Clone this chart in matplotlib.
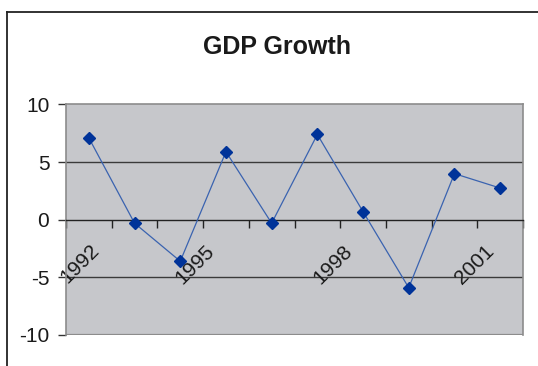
import matplotlib
matplotlib.use("Agg")
import matplotlib.pyplot as plt
from matplotlib.lines import Line2D
import matplotlib.transforms as mtransforms

plt.rcParams['font.family'] = ['Liberation Sans', 'DejaVu Sans']

# datos
years = [1992, 1993, 1994, 1995, 1996, 1997, 1998, 1999, 2000, 2001]
growth = [7.1, -0.3, -3.6, 5.9, -0.3, 7.4, 0.7, -5.9, 4.0, 2.75]
shown_years = [1992, 1995, 1998, 2001]
label_nudge = [7, -15, -14, -9]   # desplazamiento horizontal (px) de cada etiqueta

fig = plt.figure(figsize=(5.38, 3.66), dpi=100)
ax = fig.add_axes([0.1227, 0.0847, 0.8494, 0.6298])
ax.set_facecolor('#c6c7cb')

pos = list(range(len(years)))
ax.plot(pos, growth, color='#3a63b0', linewidth=0.9, zorder=3)
ax.plot(pos, growth, linestyle='none', marker='D', markersize=6.5,
        color='#003399', markeredgecolor='#003399', zorder=4)

ax.set_xlim(-0.5, len(years) - 0.5)
ax.set_ylim(-10, 10)
ax.set_yticks([-10, -5, 0, 5, 10])
ax.set_yticklabels(['-10', '-5', '0', '5', '10'], fontsize=15, color='#1a1a1a')
ax.tick_params(axis='y', direction='out', length=6, width=1, color='#333333', pad=6)

# eje x cruzando en cero, ticks en los limites de categoria
ax.spines['bottom'].set_position(('data', 0))
ax.spines['bottom'].set_color('#222222')
ax.spines['bottom'].set_linewidth(1)
ax.set_xticks([p + 0.5 for p in [-1] + pos])
ax.set_xticklabels([])
ax.tick_params(axis='x', direction='out', length=6, width=1, color='#222222')

for s in ['top', 'right', 'left']:
    ax.spines[s].set_color('#8c8c8c')
    ax.spines[s].set_linewidth(1.2)

for g in [-5, 5]:
    ax.axhline(g, color='#3a3a3a', linewidth=1, zorder=1)
ax.axhline(-10, color='#8c8c8c', linewidth=1.6, zorder=1)

# etiquetas de anios rotadas
for y, dx in zip(shown_years, label_nudge):
    i = years.index(y)
    off = mtransforms.offset_copy(ax.transData, fig=fig, x=dx, y=-28, units='dots')
    ax.text(pos[i], 0, str(y), transform=off, rotation=45, rotation_mode='anchor',
            ha='right', va='center', fontsize=15, color='#1a1a1a', zorder=2)

fig.text(0.514, 0.872, 'GDP Growth', ha='center', va='center',
         fontsize=18, fontweight='bold', color='#1a1a1a')

# marco exterior
fig.add_artist(Line2D([7 / 538, 7 / 538], [0, 1 - 12 / 366],
                      transform=fig.transFigure, color='#222222', linewidth=1.3))
fig.add_artist(Line2D([7 / 538, 1], [1 - 12 / 366, 1 - 12 / 366],
                      transform=fig.transFigure, color='#222222', linewidth=1.3))

fig.savefig('out.png', dpi=100)
